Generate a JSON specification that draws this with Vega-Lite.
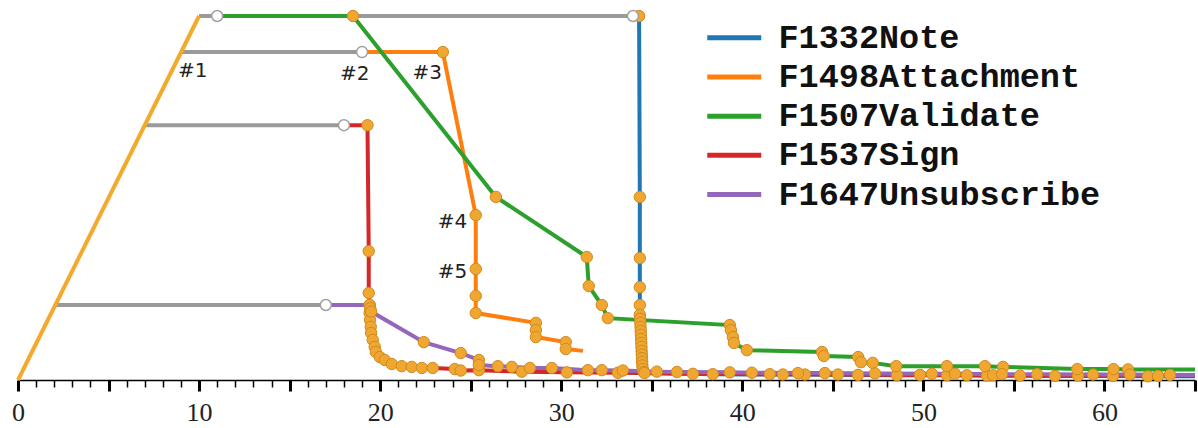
{
  "$schema": "https://vega.github.io/schema/vega-lite/v6.json",
  "width": 1177,
  "height": 380,
  "autosize": "none",
  "padding": {"left": 18, "top": 0, "right": 3, "bottom": 48},
  "background": "white",
  "config": {"view": {"stroke": null}},
  "datasets": {
    "diag": [{"x": 0, "y": 0}, {"x": 10, "y": 100}],
    "wait": [
      {"series": "F1332Note", "x": 10, "y": 100}, {"series": "F1332Note", "x": 33.96, "y": 100},
      {"series": "F1507Validate", "x": 10, "y": 100}, {"series": "F1507Validate", "x": 11, "y": 100},
      {"series": "F1498Attachment", "x": 9, "y": 90.1}, {"series": "F1498Attachment", "x": 19, "y": 90.1},
      {"series": "F1537Sign", "x": 7, "y": 70}, {"series": "F1537Sign", "x": 18, "y": 70},
      {"series": "F1647Unsubscribe", "x": 2.06, "y": 20.6}, {"series": "F1647Unsubscribe", "x": 17, "y": 20.6}
    ],
    "starts": [
      {"series": "F1332Note", "x": 33.96, "y": 100},
      {"series": "F1507Validate", "x": 11, "y": 100},
      {"series": "F1498Attachment", "x": 19, "y": 90.1},
      {"series": "F1537Sign", "x": 18, "y": 70},
      {"series": "F1647Unsubscribe", "x": 17, "y": 20.6}
    ],
    "labels": [
      {"label": "#1", "x": 9.65, "y": 84.9},
      {"label": "#2", "x": 18.6, "y": 84.1},
      {"label": "#3", "x": 22.6, "y": 84.3},
      {"label": "#4", "x": 24.0, "y": 43.4},
      {"label": "#5", "x": 24.0, "y": 29.7}
    ],
    "run": [
      {"series": "F1332Note", "i": 0, "x": 33.96, "y": 100, "pt": 0},
      {"series": "F1332Note", "i": 1, "x": 34.3, "y": 100, "pt": 1},
      {"series": "F1332Note", "i": 2, "x": 34.34, "y": 50.3, "pt": 1},
      {"series": "F1332Note", "i": 3, "x": 34.34, "y": 33.5, "pt": 1},
      {"series": "F1332Note", "i": 4, "x": 34.34, "y": 25.5, "pt": 1},
      {"series": "F1332Note", "i": 5, "x": 34.34, "y": 20.6, "pt": 1},
      {"series": "F1332Note", "i": 6, "x": 34.34, "y": 17.9, "pt": 1},
      {"series": "F1332Note", "i": 7, "x": 34.36, "y": 16.8, "pt": 1},
      {"series": "F1332Note", "i": 8, "x": 34.37, "y": 15.7, "pt": 1},
      {"series": "F1332Note", "i": 9, "x": 34.38, "y": 14.6, "pt": 1},
      {"series": "F1332Note", "i": 10, "x": 34.39, "y": 13.5, "pt": 1},
      {"series": "F1332Note", "i": 11, "x": 34.4, "y": 12.4, "pt": 1},
      {"series": "F1332Note", "i": 12, "x": 34.41, "y": 11.3, "pt": 1},
      {"series": "F1332Note", "i": 13, "x": 34.42, "y": 10.2, "pt": 1},
      {"series": "F1332Note", "i": 14, "x": 34.43, "y": 9.1, "pt": 1},
      {"series": "F1332Note", "i": 15, "x": 34.44, "y": 8.0, "pt": 1},
      {"series": "F1332Note", "i": 16, "x": 34.45, "y": 7.0, "pt": 1},
      {"series": "F1332Note", "i": 17, "x": 34.46, "y": 6.0, "pt": 1},
      {"series": "F1332Note", "i": 18, "x": 34.47, "y": 5.0, "pt": 1},
      {"series": "F1332Note", "i": 19, "x": 34.48, "y": 4.0, "pt": 1},
      {"series": "F1332Note", "i": 20, "x": 34.5, "y": 3.0, "pt": 1},
      {"series": "F1332Note", "i": 21, "x": 34.55, "y": 2.2, "pt": 1},
      {"series": "F1332Note", "i": 22, "x": 34.6, "y": 1.9, "pt": 1},
      {"series": "F1332Note", "i": 23, "x": 38.37, "y": 1.6, "pt": 1},
      {"series": "F1332Note", "i": 24, "x": 42.24, "y": 1.5, "pt": 1},
      {"series": "F1332Note", "i": 25, "x": 43.46, "y": 1.5, "pt": 1},
      {"series": "F1332Note", "i": 26, "x": 46.39, "y": 1.4, "pt": 1},
      {"series": "F1332Note", "i": 27, "x": 48.54, "y": 1.3, "pt": 1},
      {"series": "F1332Note", "i": 28, "x": 51.3, "y": 1.3, "pt": 1},
      {"series": "F1332Note", "i": 29, "x": 52.4, "y": 1.3, "pt": 1},
      {"series": "F1332Note", "i": 30, "x": 53.51, "y": 1.2, "pt": 1},
      {"series": "F1332Note", "i": 31, "x": 55.34, "y": 1.2, "pt": 1},
      {"series": "F1332Note", "i": 32, "x": 57.27, "y": 1.1, "pt": 1},
      {"series": "F1332Note", "i": 33, "x": 60.47, "y": 1.1, "pt": 1},
      {"series": "F1332Note", "i": 34, "x": 62.4, "y": 1.0, "pt": 1},
      {"series": "F1332Note", "i": 35, "x": 65, "y": 1.0, "pt": 0},

      {"series": "F1537Sign", "i": 0, "x": 18, "y": 70, "pt": 0},
      {"series": "F1537Sign", "i": 1, "x": 19.3, "y": 70, "pt": 1},
      {"series": "F1537Sign", "i": 2, "x": 19.37, "y": 35.4, "pt": 1},
      {"series": "F1537Sign", "i": 3, "x": 19.37, "y": 23.9, "pt": 1},
      {"series": "F1537Sign", "i": 4, "x": 19.42, "y": 20.6, "pt": 1},
      {"series": "F1537Sign", "i": 5, "x": 19.42, "y": 18.4, "pt": 1},
      {"series": "F1537Sign", "i": 6, "x": 19.44, "y": 16.5, "pt": 1},
      {"series": "F1537Sign", "i": 7, "x": 19.48, "y": 14.6, "pt": 1},
      {"series": "F1537Sign", "i": 8, "x": 19.5, "y": 12.9, "pt": 1},
      {"series": "F1537Sign", "i": 9, "x": 19.59, "y": 11.0, "pt": 1},
      {"series": "F1537Sign", "i": 10, "x": 19.7, "y": 9.1, "pt": 1},
      {"series": "F1537Sign", "i": 11, "x": 19.76, "y": 7.7, "pt": 1},
      {"series": "F1537Sign", "i": 12, "x": 19.98, "y": 6.3, "pt": 1},
      {"series": "F1537Sign", "i": 13, "x": 20.25, "y": 5.5, "pt": 1},
      {"series": "F1537Sign", "i": 14, "x": 20.64, "y": 4.4, "pt": 1},
      {"series": "F1537Sign", "i": 15, "x": 21.19, "y": 3.8, "pt": 1},
      {"series": "F1537Sign", "i": 16, "x": 21.74, "y": 3.6, "pt": 1},
      {"series": "F1537Sign", "i": 17, "x": 22.3, "y": 3.3, "pt": 1},
      {"series": "F1537Sign", "i": 18, "x": 22.9, "y": 3.3, "pt": 1},
      {"series": "F1537Sign", "i": 19, "x": 24.12, "y": 3.0, "pt": 1},
      {"series": "F1537Sign", "i": 20, "x": 24.45, "y": 2.6, "pt": 1},
      {"series": "F1537Sign", "i": 21, "x": 25.45, "y": 2.7, "pt": 1},
      {"series": "F1537Sign", "i": 22, "x": 27.82, "y": 2.3, "pt": 1},
      {"series": "F1537Sign", "i": 23, "x": 30.31, "y": 2.1, "pt": 1},
      {"series": "F1537Sign", "i": 24, "x": 33.13, "y": 2.0, "pt": 1},
      {"series": "F1537Sign", "i": 25, "x": 37.27, "y": 1.7, "pt": 1},
      {"series": "F1537Sign", "i": 26, "x": 41.52, "y": 1.6, "pt": 1},
      {"series": "F1537Sign", "i": 27, "x": 45.28, "y": 1.5, "pt": 1},
      {"series": "F1537Sign", "i": 28, "x": 49.81, "y": 1.4, "pt": 1},
      {"series": "F1537Sign", "i": 29, "x": 53.85, "y": 1.3, "pt": 1},
      {"series": "F1537Sign", "i": 30, "x": 58.54, "y": 1.2, "pt": 1},
      {"series": "F1537Sign", "i": 31, "x": 62.96, "y": 1.1, "pt": 1},
      {"series": "F1537Sign", "i": 32, "x": 65, "y": 1.1, "pt": 0},

      {"series": "F1498Attachment", "i": 0, "x": 19, "y": 90.1, "pt": 0},
      {"series": "F1498Attachment", "i": 1, "x": 23.46, "y": 90.1, "pt": 1},
      {"series": "F1498Attachment", "i": 2, "x": 25.28, "y": 45.3, "pt": 1},
      {"series": "F1498Attachment", "i": 3, "x": 25.28, "y": 30.5, "pt": 1},
      {"series": "F1498Attachment", "i": 4, "x": 25.28, "y": 23.1, "pt": 1},
      {"series": "F1498Attachment", "i": 5, "x": 25.28, "y": 18.4, "pt": 1},
      {"series": "F1498Attachment", "i": 6, "x": 28.6, "y": 15.7, "pt": 1},
      {"series": "F1498Attachment", "i": 7, "x": 28.6, "y": 13.7, "pt": 1},
      {"series": "F1498Attachment", "i": 8, "x": 28.6, "y": 11.8, "pt": 1},
      {"series": "F1498Attachment", "i": 9, "x": 30.25, "y": 10.4, "pt": 1},
      {"series": "F1498Attachment", "i": 10, "x": 30.25, "y": 8.5, "pt": 1},
      {"series": "F1498Attachment", "i": 11, "x": 31.2, "y": 8.0, "pt": 0},

      {"series": "F1507Validate", "i": 0, "x": 11, "y": 100, "pt": 0},
      {"series": "F1507Validate", "i": 1, "x": 18.5, "y": 100, "pt": 1},
      {"series": "F1507Validate", "i": 2, "x": 26.39, "y": 50.3, "pt": 1},
      {"series": "F1507Validate", "i": 3, "x": 31.41, "y": 33.8, "pt": 1},
      {"series": "F1507Validate", "i": 4, "x": 31.52, "y": 25.8, "pt": 1},
      {"series": "F1507Validate", "i": 5, "x": 32.24, "y": 20.6, "pt": 1},
      {"series": "F1507Validate", "i": 6, "x": 32.57, "y": 17.0, "pt": 1},
      {"series": "F1507Validate", "i": 7, "x": 39.31, "y": 15.1, "pt": 1},
      {"series": "F1507Validate", "i": 8, "x": 39.37, "y": 13.7, "pt": 1},
      {"series": "F1507Validate", "i": 9, "x": 39.48, "y": 11.8, "pt": 1},
      {"series": "F1507Validate", "i": 10, "x": 39.54, "y": 10.2, "pt": 1},
      {"series": "F1507Validate", "i": 11, "x": 40.25, "y": 8.2, "pt": 1},
      {"series": "F1507Validate", "i": 12, "x": 44.4, "y": 7.7, "pt": 1},
      {"series": "F1507Validate", "i": 13, "x": 44.5, "y": 6.6, "pt": 1},
      {"series": "F1507Validate", "i": 14, "x": 46.4, "y": 6.3, "pt": 1},
      {"series": "F1507Validate", "i": 15, "x": 46.55, "y": 4.9, "pt": 1},
      {"series": "F1507Validate", "i": 16, "x": 47.2, "y": 4.7, "pt": 1},
      {"series": "F1507Validate", "i": 17, "x": 48.5, "y": 3.8, "pt": 1},
      {"series": "F1507Validate", "i": 18, "x": 51.3, "y": 3.8, "pt": 1},
      {"series": "F1507Validate", "i": 19, "x": 53.4, "y": 3.8, "pt": 1},
      {"series": "F1507Validate", "i": 20, "x": 54.4, "y": 3.6, "pt": 1},
      {"series": "F1507Validate", "i": 21, "x": 58.5, "y": 3.0, "pt": 1},
      {"series": "F1507Validate", "i": 22, "x": 60.5, "y": 3.0, "pt": 1},
      {"series": "F1507Validate", "i": 23, "x": 61.3, "y": 2.9, "pt": 1},
      {"series": "F1507Validate", "i": 24, "x": 65, "y": 2.9, "pt": 0},

      {"series": "F1647Unsubscribe", "i": 0, "x": 17, "y": 20.6, "pt": 0},
      {"series": "F1647Unsubscribe", "i": 1, "x": 19.42, "y": 20.6, "pt": 1},
      {"series": "F1647Unsubscribe", "i": 2, "x": 19.45, "y": 19.7, "pt": 1},
      {"series": "F1647Unsubscribe", "i": 3, "x": 19.5, "y": 18.8, "pt": 1},
      {"series": "F1647Unsubscribe", "i": 4, "x": 22.41, "y": 10.4, "pt": 1},
      {"series": "F1647Unsubscribe", "i": 5, "x": 24.45, "y": 7.4, "pt": 1},
      {"series": "F1647Unsubscribe", "i": 6, "x": 25.45, "y": 5.5, "pt": 1},
      {"series": "F1647Unsubscribe", "i": 7, "x": 25.45, "y": 4.1, "pt": 1},
      {"series": "F1647Unsubscribe", "i": 8, "x": 26.5, "y": 3.8, "pt": 1},
      {"series": "F1647Unsubscribe", "i": 9, "x": 27.27, "y": 3.6, "pt": 1},
      {"series": "F1647Unsubscribe", "i": 10, "x": 28.27, "y": 3.3, "pt": 1},
      {"series": "F1647Unsubscribe", "i": 11, "x": 29.48, "y": 3.3, "pt": 1},
      {"series": "F1647Unsubscribe", "i": 12, "x": 31.47, "y": 2.7, "pt": 1},
      {"series": "F1647Unsubscribe", "i": 13, "x": 32.24, "y": 2.7, "pt": 1},
      {"series": "F1647Unsubscribe", "i": 14, "x": 33.4, "y": 2.6, "pt": 1},
      {"series": "F1647Unsubscribe", "i": 15, "x": 35.28, "y": 2.3, "pt": 1},
      {"series": "F1647Unsubscribe", "i": 16, "x": 36.39, "y": 2.2, "pt": 1},
      {"series": "F1647Unsubscribe", "i": 17, "x": 39.31, "y": 2.1, "pt": 1},
      {"series": "F1647Unsubscribe", "i": 18, "x": 40.53, "y": 2.0, "pt": 1},
      {"series": "F1647Unsubscribe", "i": 19, "x": 43.07, "y": 1.9, "pt": 1},
      {"series": "F1647Unsubscribe", "i": 20, "x": 44.56, "y": 1.9, "pt": 1},
      {"series": "F1647Unsubscribe", "i": 21, "x": 47.33, "y": 1.8, "pt": 1},
      {"series": "F1647Unsubscribe", "i": 22, "x": 50.47, "y": 1.7, "pt": 1},
      {"series": "F1647Unsubscribe", "i": 23, "x": 51.74, "y": 1.7, "pt": 1},
      {"series": "F1647Unsubscribe", "i": 24, "x": 54.34, "y": 1.6, "pt": 1},
      {"series": "F1647Unsubscribe", "i": 25, "x": 56.28, "y": 1.6, "pt": 1},
      {"series": "F1647Unsubscribe", "i": 26, "x": 59.37, "y": 1.5, "pt": 1},
      {"series": "F1647Unsubscribe", "i": 27, "x": 61.41, "y": 1.5, "pt": 1},
      {"series": "F1647Unsubscribe", "i": 28, "x": 63.62, "y": 1.4, "pt": 1},
      {"series": "F1647Unsubscribe", "i": 29, "x": 65, "y": 1.4, "pt": 0}
    ]
  },
  "layer": [
    {
      "data": {"name": "wait"},
      "mark": {"type": "line", "color": "#9a9a9a", "strokeWidth": 4},
      "encoding": {
        "x": {
          "field": "x", "type": "quantitative",
          "scale": {"domain": [0, 65], "nice": false, "zero": false},
          "axis": {
            "title": null,
            "grid": false,
            "tickCount": 200,
            "format": "d",
            "values": [0,1,2,3,4,5,6,7,8,9,10,11,12,13,14,15,16,17,18,19,20,21,22,23,24,25,26,27,28,29,30,31,32,33,34,35,36,37,38,39,40,41,42,43,44,45,46,47,48,49,50,51,52,53,54,55,56,57,58,59,60,61,62,63,64,65],
            "domainColor": "#000000",
            "domainWidth": 1.5,
            "tickColor": "#000000",
            "tickSize": {"condition": {"test": "datum.value % 5 === 0", "value": 11}, "value": 7},
            "tickWidth": {"condition": {"test": "datum.value % 5 === 0", "value": 3}, "value": 1.5},
            "labelExpr": "datum.value % 10 === 0 ? datum.label : ''",
            "labelFont": "Liberation Serif",
            "labelFontSize": 26,
            "labelColor": "#222222",
            "labelPadding": 8,
            "labelFlush": false,
            "labelOverlap": false
          }
        },
        "y": {"field": "y", "type": "quantitative", "scale": {"domain": [0, 104.4], "nice": false, "zero": false}, "axis": null},
        "detail": {"field": "series"}
      }
    },
    {
      "data": {"name": "diag"},
      "mark": {"type": "line", "color": "#f4a92a", "strokeWidth": 4},
      "encoding": {
        "x": {"field": "x", "type": "quantitative", "title": null},
        "y": {"field": "y", "type": "quantitative", "axis": null}
      }
    },
    {
      "data": {"name": "run"},
      "mark": {"type": "line", "strokeWidth": 4},
      "encoding": {
        "x": {"field": "x", "type": "quantitative", "title": null},
        "y": {"field": "y", "type": "quantitative", "axis": null},
        "order": {"field": "i", "type": "quantitative"},
        "color": {
          "field": "series", "type": "nominal",
          "scale": {
            "domain": ["F1332Note", "F1498Attachment", "F1507Validate", "F1537Sign", "F1647Unsubscribe"],
            "range": ["#1f77b4", "#ff7f0e", "#2ca02c", "#d62728", "#9467bd"]
          },
          "legend": {
            "orient": "none", "legendX": 686, "legendY": 21,
            "title": null,
            "symbolType": "M-1,0H3",
            "symbolSize": 729,
            "symbolStrokeWidth": 5,
            "labelFont": "Liberation Mono",
            "labelFontWeight": "bold",
            "labelFontSize": 33.5,
            "labelColor": "#111111",
            "labelOffset": 41,
            "labelLimit": 0,
            "rowPadding": 4.2
          }
        }
      }
    },
    {
      "data": {"name": "run"},
      "transform": [{"filter": "datum.pt === 1"}],
      "mark": {"type": "circle", "size": 130, "fill": "#f0a732", "stroke": "#d08a1e", "strokeWidth": 1, "opacity": 1},
      "encoding": {
        "x": {"field": "x", "type": "quantitative", "title": null},
        "y": {"field": "y", "type": "quantitative", "axis": null}
      }
    },
    {
      "data": {"name": "starts"},
      "mark": {"type": "point", "shape": "circle", "filled": true, "fill": "#ffffff", "stroke": "#a0a0a0", "strokeWidth": 1.5, "size": 120, "opacity": 1},
      "encoding": {
        "x": {"field": "x", "type": "quantitative", "title": null},
        "y": {"field": "y", "type": "quantitative", "axis": null}
      }
    },
    {
      "data": {"name": "labels"},
      "mark": {"type": "text", "font": "DejaVu Sans", "fontSize": 20, "color": "#222222"},
      "encoding": {
        "x": {"field": "x", "type": "quantitative", "title": null},
        "y": {"field": "y", "type": "quantitative", "axis": null},
        "text": {"field": "label"}
      }
    }
  ]
}
